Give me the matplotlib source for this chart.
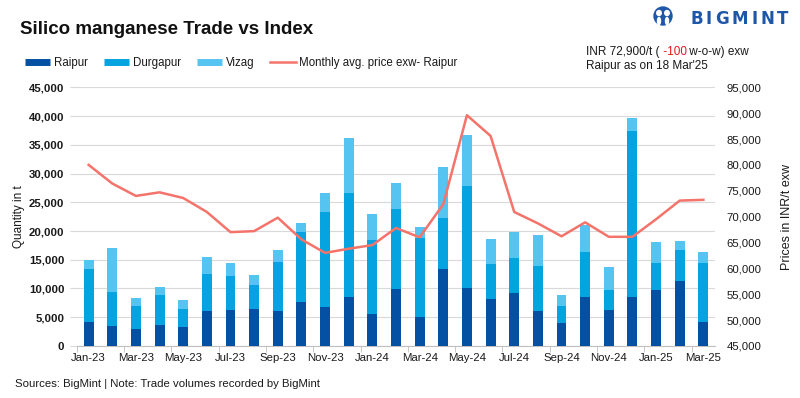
import matplotlib.pyplot as plt
import numpy as np
from matplotlib.lines import Line2D
from matplotlib.patches import Circle, Ellipse

plt.rcParams['font.family'] = ['Liberation Sans', 'DejaVu Sans']

# data
months = ["Jan-23", "Feb-23", "Mar-23", "Apr-23", "May-23", "Jun-23", "Jul-23",
          "Aug-23", "Sep-23", "Oct-23", "Nov-23", "Dec-23", "Jan-24", "Feb-24",
          "Mar-24", "Apr-24", "May-24", "Jun-24", "Jul-24", "Aug-24", "Sep-24",
          "Oct-24", "Nov-24", "Dec-24", "Jan-25", "Feb-25", "Mar-25"]
raipur = [4100, 3400, 2900, 3600, 3250, 6050, 6200, 6400, 6050, 7600, 6750, 8500,
          5500, 9850, 5000, 13350, 10050, 8100, 9150, 6050, 3950, 8450, 6200, 8450,
          9700, 11250, 4100]
durgapur = [9250, 5950, 4000, 5200, 3150, 6450, 5950, 4200, 8500, 12200, 16500, 18100,
            12900, 13950, 13750, 8900, 17750, 6100, 6100, 7850, 2950, 7850, 3500, 28900,
            4700, 5400, 10300]
vizag = [1550, 7650, 1400, 1400, 1550, 2950, 2250, 1750, 2100, 1550, 3300, 9550,
         4500, 4500, 1900, 8850, 8900, 4350, 4550, 5400, 1900, 4700, 4000, 2250,
         3650, 1550, 1900]
price = [80000, 76400, 74000, 74700, 73600, 70900, 67000, 67200, 69800, 65600, 63000,
         63800, 64500, 67800, 66000, 72400, 89600, 85600, 70900, 68700, 66200, 68900,
         66100, 66100, 69500, 73100, 73250]

c_raipur = "#0450A2"
c_durg = "#05A3E0"
c_vizag = "#56C4F1"
c_line = "#F4736B"
grid_c = "#D9D9D9"
txt = "#1A1A1A"

fig = plt.figure(figsize=(8, 3.98), dpi=100)
ax = fig.add_axes([0.096, 0.1307, 0.798, 0.65])
ax2 = ax.twinx()

x = np.arange(len(months))
r = np.array(raipur)
d = np.array(durgapur)
v = np.array(vizag)
w = 0.42
ax.bar(x, r, w, color=c_raipur, zorder=3)
ax.bar(x, d, w, bottom=r, color=c_durg, zorder=3)
ax.bar(x, v, w, bottom=r + d, color=c_vizag, zorder=3)

ax2.plot(x, price, color=c_line, lw=1.8, zorder=4)

ax.set_xlim(-0.5, len(months) - 0.5)
ax.set_ylim(0, 45000)
ax.set_yticks(np.arange(0, 45001, 5000))
ax.set_yticklabels([f"{t:,}" for t in range(0, 45001, 5000)],
                   fontweight='bold', color=txt, fontsize=8.2)
ax2.set_ylim(45000, 95000)
ax2.set_yticks(np.arange(45000, 95001, 5000))
ax2.set_yticklabels([f"{t:,}" for t in range(45000, 95001, 5000)],
                    color=txt, fontsize=8.2)

ax.yaxis.grid(True, color=grid_c, lw=0.8, zorder=0)
ax.set_axisbelow(True)
ax.tick_params(axis='y', length=5, color=grid_c, pad=4)
ax2.tick_params(axis='y', length=0, pad=8)

ax.set_xticks(x[::2])
ax.set_xticklabels(months[::2], fontsize=8.2, color=txt)
ax.set_xticks(np.arange(-0.5, len(months), 2), minor=True)
ax.tick_params(axis='x', which='major', length=0, pad=5)
ax.tick_params(axis='x', which='minor', length=4, color="#BFBFBF")

for a in (ax, ax2):
    for s in ('top', 'left', 'right'):
        a.spines[s].set_visible(False)
    a.spines['bottom'].set_color("#BFBFBF")
ax2.spines['bottom'].set_visible(False)

ax.set_ylabel("Quantity in t", fontsize=8.5, color=txt, labelpad=3)
ax2.set_ylabel("Prices in INR/t exw", fontsize=9, color=txt, labelpad=14)

# title and legend
fig.text(0.025, 0.925, "Silico manganese Trade vs Index", fontsize=13.5,
         fontweight='bold', color="#111111", va='center')

handles = [Line2D([], [], color=c_raipur, lw=5, solid_capstyle='butt'),
           Line2D([], [], color=c_durg, lw=5, solid_capstyle='butt'),
           Line2D([], [], color=c_vizag, lw=5, solid_capstyle='butt'),
           Line2D([], [], color=c_line, lw=1.8)]
labels = ["Raipur", "Durgapur", "Vizag", "Monthly avg. price exw- Raipur"]
fig.legend(handles, labels, loc='center left', bbox_to_anchor=(0.018, 0.842),
           ncol=4, frameon=False, fontsize=8.3, handlelength=2.2,
           handletextpad=0.3, columnspacing=1.4, labelcolor=txt)

# price note top right
t1 = fig.text(0.7325, 0.862, "INR 72,900/t (", fontsize=8.5, color=txt, va='baseline')
t2 = plt.annotate(" -100", xy=(1, 0), xycoords=t1, va='bottom', fontsize=8.5,
                  color="#E8141C")
plt.annotate(" w-o-w) exw", xy=(1, 0), xycoords=t2, va='bottom', fontsize=8.5,
             color=txt)
fig.text(0.7325, 0.826, "Raipur as on 18 Mar'25", fontsize=8.5, color=txt, va='baseline')

# logo
logo_c = "#1E56A8"
fig.patches.append(Circle((663, 398 - 16), 9, transform=None, color=logo_c))
fig.patches.append(Ellipse((659, 398 - 13), 4.5, 5, transform=None, color='white'))
fig.patches.append(Ellipse((667, 398 - 13), 4.5, 5, transform=None, color='white'))
fig.patches.append(Ellipse((659, 398 - 21), 3, 7, transform=None, color='white'))
fig.patches.append(Ellipse((667, 398 - 21), 3, 7, transform=None, color='white'))
prev = fig.text(690 / 800, 1 - 19 / 398, "B", fontsize=12, fontweight='bold',
                color=logo_c, va='center', family=['DejaVu Sans'])
for ch in "IGMINT":
    prev = plt.annotate(ch, xy=(1, 0.5), xycoords=prev, xytext=(2.2, 0),
                        textcoords='offset points', va='center', fontsize=12,
                        fontweight='bold', color=logo_c, family=['DejaVu Sans'])

# footer
fig.text(0.019, 0.035, "Sources: BigMint | Note: Trade volumes recorded by BigMint",
         fontsize=8.2, color=txt, va='center')

fig.savefig("out.png", dpi=100)
